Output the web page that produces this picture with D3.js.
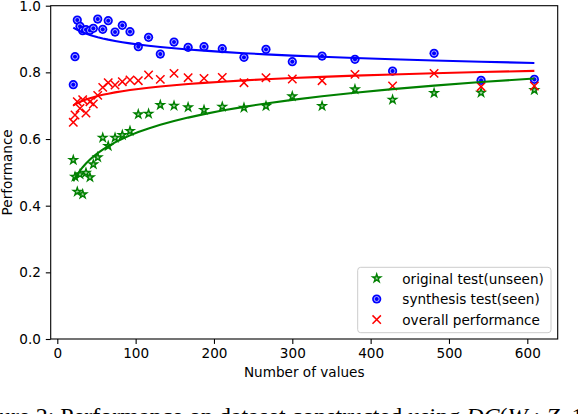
<!DOCTYPE html>
<html>
<head>
<meta charset="utf-8">
<script src="https://cdn.jsdelivr.net/npm/d3@7"></script>
<style>
  html, body { margin: 0; padding: 0; background: #fff; }
  svg { display: block; }
  text { font-family: "DejaVu Sans", sans-serif; }
</style>
</head>
<body>
<svg id="chart" width="578" height="414"></svg>
<script>
// ---- data ----
const xValues = [20.4, 22.6, 25.5, 29, 32.4, 36.6, 41.7, 46, 51.6, 58, 65, 73.7, 83, 92.8, 103.4,
                 116.5, 131.5, 149, 167, 187.3, 210.6, 238.3, 266.4, 300, 338, 380, 428, 481, 541, 609];
const unseenValues = [0.537, 0.487, 0.442, 0.494, 0.434, 0.499, 0.485, 0.524, 0.545, 0.604, 0.579, 0.604, 0.612, 0.624, 0.674,
                      0.676, 0.702, 0.700, 0.695, 0.687, 0.697, 0.694, 0.699, 0.728, 0.699, 0.749, 0.718, 0.738, 0.739, 0.747];
const seenValues = [0.763, 0.847, 0.957, 0.938, 0.925, 0.928, 0.926, 0.932, 0.960, 0.929, 0.955, 0.921, 0.941, 0.922, 0.877,
                    0.905, 0.855, 0.891, 0.875, 0.877, 0.871, 0.845, 0.869, 0.832, 0.849, 0.839, 0.804, 0.857, 0.776, 0.779];
const overallValues = [0.650, 0.672, 0.712, 0.692, 0.718, 0.678, 0.712, 0.705, 0.731, 0.755, 0.769, 0.762, 0.772, 0.777, 0.775,
                       0.792, 0.779, 0.797, 0.784, 0.782, 0.785, 0.769, 0.784, 0.780, 0.775, 0.794, 0.759, 0.797, 0.757, 0.759];
const xTicks = [0, 100, 200, 300, 400, 500, 600];
const yTicks = [0.0, 0.2, 0.4, 0.6, 0.8, 1.0];
const seriesNames = ["original test(unseen)", "synthesis test(seen)", "overall performance"];
const seriesColors = ["#008000", "#0000ff", "#ff0000"];
const xLabel = "Number of values";
const yLabel = "Performance";

// ---- layout ----
const svg = d3.select("#chart");
const L = 50.7, R = 557.7, T = 5.7, B = 339;
const x = d3.scaleLinear().domain([-8.43, 638.8]).range([L, R]);
const y = d3.scaleLinear().domain([0, 1]).range([B, T]);

// least squares fit y = a + b ln(x)
function logFit(xs, ys) {
  const lx = xs.map(Math.log);
  const mx = d3.mean(lx), my = d3.mean(ys);
  let sxy = 0, sxx = 0;
  lx.forEach((v, i) => { sxy += (v - mx) * (ys[i] - my); sxx += (v - mx) * (v - mx); });
  const b = sxy / sxx, a = my - b * mx;
  return xs.map(v => a + b * Math.log(v));
}

const seriesData = [unseenValues, seenValues, overallValues];

// markers
function drawStar(g, cx, cy, color) {
  g.append("path")
    .attr("d", d3.symbol(d3.symbolStar, 20)())
    .attr("transform", `translate(${cx},${cy})`)
    .attr("fill", "#9fd09f").attr("stroke", color).attr("stroke-width", 1.4)
    .attr("stroke-linejoin", "miter");
}
function drawCircle(g, cx, cy, color) {
  g.append("circle").attr("cx", cx).attr("cy", cy).attr("r", 4.6).attr("fill", color);
  g.append("circle").attr("cx", cx).attr("cy", cy).attr("r", 2.5)
    .attr("fill", "none").attr("stroke", "#ffffff").attr("stroke-width", 0.8).attr("stroke-opacity", 0.85);
}
function drawCross(g, cx, cy, color) {
  const s = 4.2;
  g.append("path")
    .attr("d", `M${cx - s},${cy - s}L${cx + s},${cy + s}M${cx - s},${cy + s}L${cx + s},${cy - s}`)
    .attr("stroke", color).attr("stroke-width", 1.5).attr("fill", "none");
}
const drawers = [drawStar, drawCircle, drawCross];

// scatter
const plot = svg.append("g");
seriesData.forEach((vals, si) => {
  const g = plot.append("g");
  vals.forEach((v, i) => drawers[si](g, x(xValues[i]), y(v), seriesColors[si]));
});

// fit lines
const line = d3.line().x(d => x(d[0])).y(d => y(d[1]));
seriesData.forEach((vals, si) => {
  const fit = logFit(xValues, vals);
  plot.append("path")
    .datum(xValues.map((xv, i) => [xv, fit[i]]))
    .attr("d", line)
    .attr("fill", "none").attr("stroke", seriesColors[si]).attr("stroke-width", 2.1);
});

// axes
const fs = 13.6;
const xAxis = svg.append("g").attr("transform", `translate(0,${B})`)
  .call(d3.axisBottom(x).tickValues(xTicks).tickFormat(d3.format("d")).tickSize(4.9).tickPadding(4.9));
const yAxis = svg.append("g").attr("transform", `translate(${L},0)`)
  .call(d3.axisLeft(y).tickValues(yTicks).tickFormat(d3.format(".1f")).tickSize(4.9).tickPadding(4.9));
[xAxis, yAxis].forEach(a => {
  a.select(".domain").remove();
  a.selectAll(".tick line").attr("stroke", "#000").attr("stroke-width", 1.1);
  a.selectAll(".tick text").attr("fill", "#000").style("font-size", fs + "px")
    .style("font-family", "DejaVu Sans, sans-serif");
});

// frame
svg.append("rect").attr("x", L).attr("y", T).attr("width", R - L).attr("height", B - T)
  .attr("fill", "none").attr("stroke", "#000").attr("stroke-width", 1.1);

// axis labels
svg.append("text").attr("x", (L + R) / 2).attr("y", 377).attr("text-anchor", "middle")
  .style("font-size", fs + "px").text(xLabel);
svg.append("text").attr("transform", `translate(12,${(T + B) / 2}) rotate(-90)`)
  .attr("text-anchor", "middle").style("font-size", fs + "px").text(yLabel);

// legend
const lg = svg.append("g");
lg.append("rect").attr("x", 357.7).attr("y", 267.3).attr("width", 551 - 357.7).attr("height", 332.7 - 267.3)
  .attr("rx", 3).attr("fill", "#fff").attr("fill-opacity", 0.8).attr("stroke", "#cccccc").attr("stroke-width", 1);
const rowY = [278.3, 299, 319.6];
seriesNames.forEach((name, i) => {
  drawers[i](lg, 376.7, rowY[i], seriesColors[i]);
  lg.append("text").attr("x", 402.3).attr("y", rowY[i] + 5.4).style("font-size", fs + "px").text(name);
});

// caption (cut off at the bottom, as in the reference)
const cap = svg.append("text").attr("y", 423.5)
  .style("font-family", "Liberation Serif, Times New Roman, serif").style("font-size", "24px");
cap.append("tspan").attr("x", -33).text("Figure 2: Performance on dataset constructed using ");
cap.append("tspan").style("font-style", "italic").text("DC");
cap.append("tspan").text("(");
cap.append("tspan").style("font-style", "italic").text("W");
cap.append("tspan").text(" ; ");
cap.append("tspan").style("font-style", "italic").text("Z");
cap.append("tspan").text(", 1)");
</script>
</body>
</html>
